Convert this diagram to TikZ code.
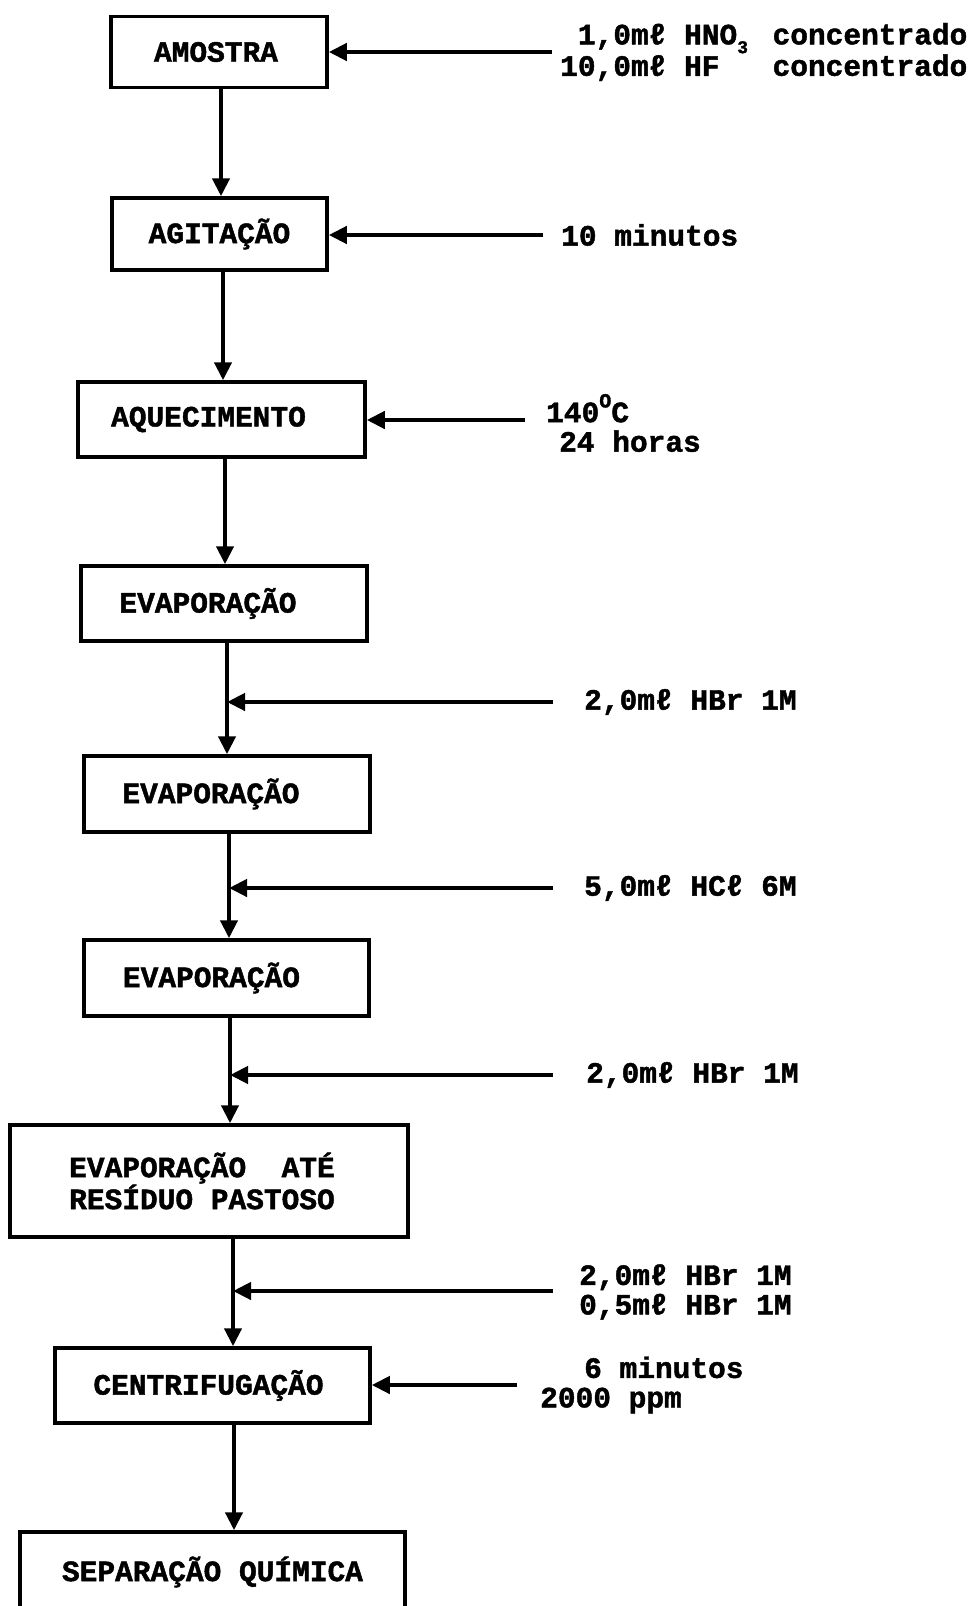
\documentclass[tikz,border=0pt]{standalone}
\usepackage{fontspec}
\usetikzlibrary{arrows.meta}
\newfontfamily\twfont{Liberation Mono}[BoldFeatures={FakeBold=1.5}]
\newcommand\subthree{\makebox[0.6em][l]{\raisebox{-0.3em}{\fontsize{18}{18}\selectfont 3}}}
\newcommand\degO{\raisebox{0.5em}{\fontsize{20}{20}\selectfont O}}
\begin{document}
\begin{tikzpicture}[x=1pt,y=1pt,
  txt/.style={font=\twfont\bfseries\fontsize{29.5}{29.5}\selectfont},
  box/.style={txt, draw, line width=3.5pt, inner sep=0pt, align=center},
  lbl/.style={txt, anchor=west, inner sep=0pt, align=left},
  arr/.style={line width=4.2pt, -{Triangle[length=18pt,width=17pt]}},
]
\useasboundingbox (0,0) rectangle (970,-1606);
% boxes
\node[box, minimum width=216pt, minimum height=71pt] (amostra) at (219,-52) {AMOSTRA\hspace*{6pt}};
\node[box, minimum width=215pt, minimum height=72pt] (agitacao) at (219.5,-234) {AGITAÇÃO};
\node[box, minimum width=287pt, minimum height=75pt] (aquec) at (221.5,-419.5) {AQUECIMENTO\hspace*{26pt}};
\node[box, minimum width=286pt, minimum height=75pt] (evapa) at (224,-603.5) {EVAPORAÇÃO\hspace*{32pt}};
\node[box, minimum width=286pt, minimum height=76pt] (evapb) at (227,-794) {EVAPORAÇÃO\hspace*{32pt}};
\node[box, minimum width=285pt, minimum height=76pt] (evapc) at (226.5,-978) {EVAPORAÇÃO\hspace*{30pt}};
\node[box, minimum width=398pt, minimum height=112pt] (evapate) at (209,-1181) {EVAPORAÇÃO\ \ ATÉ\hspace*{14pt}\\RESÍDUO PASTOSO\hspace*{14pt}};
\node[box, minimum width=315pt, minimum height=75pt] (centrif) at (212.5,-1385.5) {CENTRIFUGAÇÃO\hspace*{8pt}};
\node[box, minimum width=385pt, minimum height=80pt] (separacao) at (212.5,-1572) {SEPARAÇÃO QUÍMICA};
% columns of the vertical arrows
\coordinate (c1) at (221,0);
\coordinate (c2) at (223,0);
\coordinate (c3) at (225,0);
\coordinate (c4) at (227,0);
\coordinate (c5) at (229,0);
\coordinate (c6) at (230,0);
\coordinate (c7) at (233,0);
\coordinate (c8) at (234,0);
\draw[arr] (amostra.south -| c1) -- (agitacao.north -| c1);
\draw[arr] (agitacao.south -| c2) -- (aquec.north -| c2);
\draw[arr] (aquec.south -| c3) -- (evapa.north -| c3);
\draw[arr] (evapa.south -| c4) -- (evapb.north -| c4);
\draw[arr] (evapb.south -| c5) -- (evapc.north -| c5);
\draw[arr] (evapc.south -| c6) -- (evapate.north -| c6);
\draw[arr] (evapate.south -| c7) -- (centrif.north -| c7);
\draw[arr] (centrif.south -| c8) -- (separacao.north -| c8);
% side inputs
\coordinate (s1) at (552,-52);
\coordinate (s2) at (543,-235);
\coordinate (s3) at (525,-420);
\coordinate (s4) at (553,-702);
\coordinate (s5) at (553,-888);
\coordinate (s6) at (553,-1075);
\coordinate (s7) at (553,-1291);
\coordinate (s8) at (517,-1385);
\draw[arr] (s1) -- (amostra.east |- s1);
\draw[arr] (s2) -- (agitacao.east |- s2);
\draw[arr] (s3) -- (aquec.east |- s3);
\draw[arr] (s4) -- (c4 |- s4);
\draw[arr] (s5) -- (c5 |- s5);
\draw[arr] (s6) -- (c6 |- s6);
\draw[arr] (s7) -- (c7 |- s7);
\draw[arr] (s8) -- (centrif.east |- s8);
% side texts
\node[lbl] (t1) at (560,-52) {\hphantom{1}1,0mℓ HNO\subthree\ concentrado\\10,0mℓ HF\ \ \ concentrado};
\node[lbl] (t2) at (561,-235) {10 minutos};
\node[lbl] (t3) at (546,-423) {140\degO C\\\hspace*{13pt}24 horas};
\node[lbl] (t4) at (584,-702) {2,0mℓ HBr 1M};
\node[lbl] (t5) at (584,-888) {5,0mℓ HCℓ 6M};
\node[lbl] (t6) at (586,-1075) {2,0mℓ HBr 1M};
\node[lbl] (t7) at (579,-1292) {2,0mℓ HBr 1M\\0,5mℓ HBr 1M};
\node[lbl] (t8) at (540,-1385) {\hspace*{44pt}6 minutos\\2000 ppm};
\end{tikzpicture}
\end{document}
